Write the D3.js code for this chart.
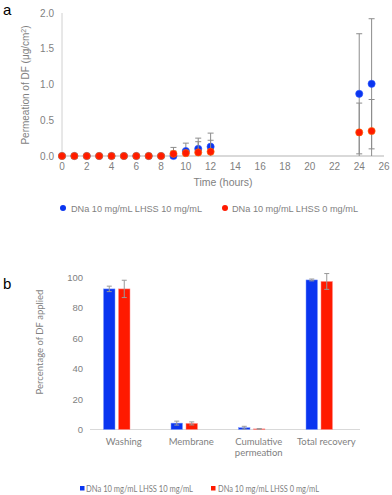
<!DOCTYPE html>
<html><head><meta charset="utf-8">
<script src="https://cdn.jsdelivr.net/npm/d3@7/dist/d3.min.js"></script>
<style>body{margin:0;background:#fff}svg{display:block}</style>
</head><body>
<svg id="c" width="392" height="495"></svg>
<script>
// Panel a data
const times = [0,1,2,3,4,5,6,7,8,9,10,11,12,24,25];
const blueMean = [0,0,0,0,0,0,0,0,0,0.0,0.07,0.10,0.13,0.87,1.01];
const blueErr  = [0,0,0,0,0,0,0,0,0,0.12,0.11,0.15,0.19,0.84,0.91];
const redMean  = [0,0,0,0,0,0,0,0,0,0.03,0.04,0.05,0.06,0.33,0.35];
const redErr   = [0,0,0,0,0,0,0,0,0,0.04,0.04,0.15,0.16,0.41,0.44];
const xTicksA = [0,2,4,6,8,10,12,14,16,18,20,22,24,26];
const yTicksA = [0,0.5,1.0,1.5,2.0];
const seriesNames = ["DNa 10 mg/mL LHSS 10 mg/mL","DNa 10 mg/mL LHSS 0 mg/mL"];
// Panel b data
const categories = ["Washing","Membrane","Cumulative permeation","Total recovery"];
const barBlue = [92.5,4.2,1.2,98.4];
const barBlueErr = [1.8,1.3,0.9,0.6];
const barRed = [92.5,4.0,0.4,97.4];
const barRedErr = [5.7,1.0,0.2,5.2];
const yTicksB = [0,20,40,60,80,100];

const svg = d3.select("#c");
const gray = "#7f7f7f";
const BLUE = "#0a35f0", RED = "#ff1a00";

// ---------- Panel a ----------
svg.append("text").attr("x",3).attr("y",15).attr("font-family","Liberation Sans, Arial").attr("font-size",15).attr("fill","#000").text("a");
const xa = d3.scaleLinear().domain([0,26]).range([62,384]);
const ya = d3.scaleLinear().domain([0,2]).range([156,13]);
const ga = svg.append("g");
ga.append("line").attr("x1",62).attr("x2",62).attr("y1",ya(2)).attr("y2",ya(0)).attr("stroke","#d0d0d0").attr("stroke-width",1);
ga.append("line").attr("x1",62).attr("x2",384).attr("y1",ya(0)).attr("y2",ya(0)).attr("stroke","#d9d9d9").attr("stroke-width",2);
ga.selectAll(".yt").data(yTicksA).join("text").attr("x",54).attr("y",d=>ya(d)+3.5).attr("text-anchor","end")
  .attr("font-family","Liberation Sans, Arial").attr("font-size",10).attr("fill",gray).text(d=>d.toFixed(1));
ga.selectAll(".xt").data(xTicksA).join("text").attr("x",d=>xa(d)).attr("y",170).attr("text-anchor","middle")
  .attr("font-family","Liberation Sans, Arial").attr("font-size",10).attr("fill",gray).text(d=>d);
ga.append("text").attr("x",223).attr("y",186).attr("text-anchor","middle").attr("font-family","Liberation Sans, Arial").attr("font-size",10.5).attr("fill",gray).text("Time (hours)");
ga.append("text").attr("transform","translate(29,85) rotate(-90)").attr("text-anchor","middle").attr("font-family","Liberation Sans, Arial").attr("font-size",10).attr("fill",gray)
  .html('Permeation of DF (μg/cm<tspan baseline-shift="super" font-size="7">2</tspan>)');

function drawSeries(mean, err, color, stroke){
  const pts = times.map((t,i)=>({t, m:mean[i], e:err[i]}));
  const eb = ga.append("g").attr("stroke","#8c8c8c").attr("stroke-width",1);
  pts.filter(p=>p.e>0).forEach(p=>{
    const top = ya(p.m+p.e), bot = ya(Math.max(0,p.m-p.e));
    eb.append("line").attr("x1",xa(p.t)).attr("x2",xa(p.t)).attr("y1",top).attr("y2",bot);
    eb.append("line").attr("x1",xa(p.t)-3).attr("x2",xa(p.t)+3).attr("y1",top).attr("y2",top);
    if (p.m-p.e>0) eb.append("line").attr("x1",xa(p.t)-3).attr("x2",xa(p.t)+3).attr("y1",bot).attr("y2",bot);
  });
  ga.append("g").selectAll("circle").data(pts).join("circle").attr("cx",p=>xa(p.t)).attr("cy",p=>ya(p.m)).attr("r",3.6)
    .attr("fill",color).attr("stroke",stroke).attr("stroke-width",0.6);
}
drawSeries(blueMean, blueErr, BLUE, "#2a55ff");
drawSeries(redMean, redErr, RED, "#ff6a00");

// legend a
const la = [{x:63,tx:71,c:BLUE,w:131},{x:225,tx:232,c:RED,w:126}];
la.forEach((l,i)=>{
  svg.append("circle").attr("cx",l.x).attr("cy",208).attr("r",3).attr("fill",l.c);
  svg.append("text").attr("x",l.tx).attr("y",211.5).attr("font-family","Liberation Sans, Arial").attr("font-size",9.5).attr("fill",gray)
    .attr("textLength",l.w).attr("lengthAdjust","spacingAndGlyphs").text(seriesNames[i]);
});

// ---------- Panel b ----------
svg.append("text").attr("x",3).attr("y",289).attr("font-family","Liberation Sans, Arial").attr("font-size",15).attr("fill","#000").text("b");
const xb = d3.scaleBand().domain(categories).range([90,360]);
const yb = d3.scaleLinear().domain([0,100]).range([429.5,277.5]);
const gb = svg.append("g");
gb.append("line").attr("x1",90).attr("x2",360).attr("y1",yb(0)).attr("y2",yb(0)).attr("stroke","#d9d9d9").attr("stroke-width",1);
gb.selectAll(".yt").data(yTicksB).join("text").attr("x",83).attr("y",d=>yb(d)+3.5).attr("text-anchor","end")
  .attr("font-family","Liberation Sans, Arial").attr("font-size",9.5).attr("fill",gray).text(d=>d);
gb.append("text").attr("transform","translate(43,342) rotate(-90)").attr("text-anchor","middle").attr("font-family","Lato, Carlito, sans-serif").attr("font-size",9.5).attr("fill",gray).text("Percentage of DF applied");

const bw = 11.5, off = -7;
function drawBars(vals, errs, color, dx){
  categories.forEach((c,i)=>{
    const cx = xb(c)+xb.bandwidth()/2+off+dx;
    gb.append("rect").attr("x",cx-bw/2).attr("y",yb(vals[i])).attr("width",bw).attr("height",yb(0)-yb(vals[i]))
      .attr("fill",color).attr("stroke",color==BLUE?"#7f9bff":"#ff9090").attr("stroke-width",0.5);
    const t = yb(vals[i]+errs[i]), b = yb(vals[i]-errs[i]);
    gb.append("line").attr("x1",cx).attr("x2",cx).attr("y1",t).attr("y2",b).attr("stroke","#999").attr("stroke-width",1);
    gb.append("line").attr("x1",cx-2.5).attr("x2",cx+2.5).attr("y1",t).attr("y2",t).attr("stroke","#999").attr("stroke-width",1);
    gb.append("line").attr("x1",cx-2.5).attr("x2",cx+2.5).attr("y1",b).attr("y2",b).attr("stroke","#999").attr("stroke-width",1);
  });
}
drawBars(barBlue, barBlueErr, BLUE, -7.5);
drawBars(barRed, barRedErr, RED, 7.5);

categories.forEach(c=>{
  const cx = xb(c)+xb.bandwidth()/2;
  const words = c==="Cumulative permeation" ? ["Cumulative","permeation"] : [c];
  words.forEach((w,j)=>{
    gb.append("text").attr("x",cx).attr("y",445+j*10.5).attr("text-anchor","middle").attr("font-family","Lato, Carlito, sans-serif")
      .attr("font-size",9.5).attr("fill",gray).text(w);
  });
});

// legend b
const lb = [{x:80,tx:86,c:BLUE,w:107},{x:211,tx:218,c:RED,w:101}];
lb.forEach((l,i)=>{
  svg.append("rect").attr("x",l.x).attr("y",486).attr("width",4.5).attr("height",4.5).attr("fill",l.c);
  svg.append("text").attr("x",l.tx).attr("y",491.5).attr("font-family","Lato, Carlito, sans-serif").attr("font-size",8.5).attr("fill",gray)
    .attr("textLength",l.w).attr("lengthAdjust","spacingAndGlyphs").text(seriesNames[i]);
});
</script>
</body></html>
